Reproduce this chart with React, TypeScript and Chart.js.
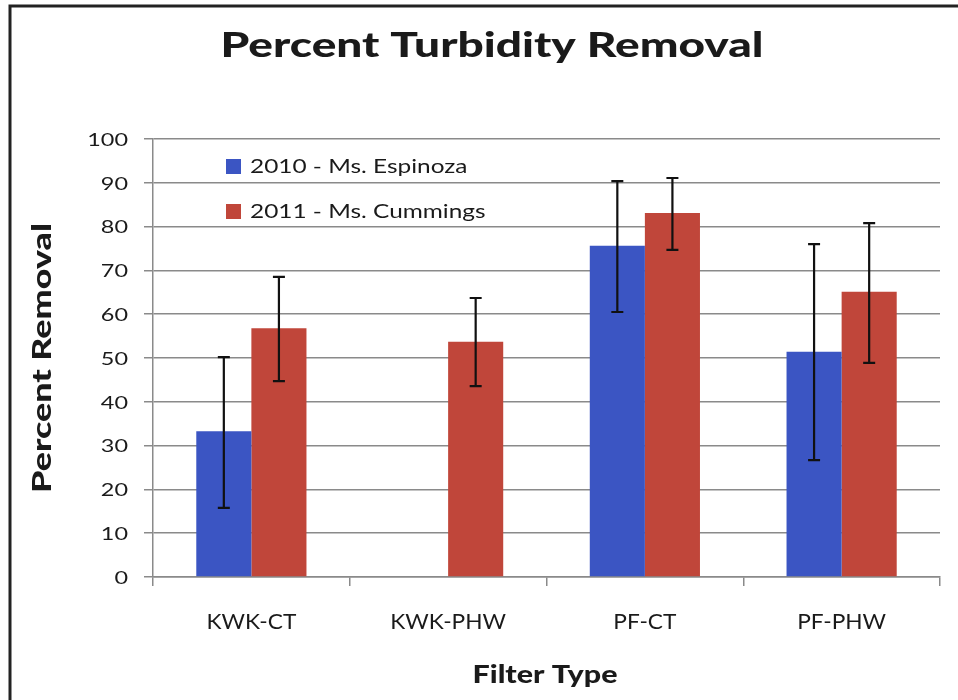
import React, { useEffect, useRef } from "react";
import { Chart, registerables } from "chart.js";

Chart.register(...registerables);

const chartTitle = "Percent Turbidity Removal";
const xAxisTitle = "Filter Type";
const yAxisTitle = "Percent Removal";
const categories = ["KWK-CT", "KWK-PHW", "PF-CT", "PF-PHW"];
const seriesLabels = ["2010 - Ms. Espinoza", "2011 - Ms. Cummings"];
const values2010: (number | null)[] = [33.3, null, 75.6, 51.4];
const values2011: (number | null)[] = [56.8, 53.7, 83.1, 65.1];
const err2010Low: (number | null)[] = [15.8, null, 60.5, 26.7];
const err2010High: (number | null)[] = [50.2, null, 90.4, 76.0];
const err2011Low: (number | null)[] = [44.7, 43.6, 74.7, 48.9];
const err2011High: (number | null)[] = [68.5, 63.7, 91.1, 80.8];
const yMin = 0;
const yMax = 100;
const yStep = 10;

const BLUE = "#3b55c3";
const RED = "#c0463a";
const TEXT = "#1a1a1a";
const FONT = "Lato, 'Open Sans', sans-serif";

const errorLows = [err2010Low, err2011Low];
const errorHighs = [err2010High, err2011High];

function drawText(
  ctx: CanvasRenderingContext2D,
  text: string,
  x: number,
  y: number,
  font: string,
  align: CanvasTextAlign,
  baseline: CanvasTextBaseline,
  sx: number,
  rotate = 0,
  fitWidth = 0
) {
  ctx.save();
  ctx.font = font;
  let s = sx;
  if (fitWidth > 0) {
    const w = ctx.measureText(text).width;
    if (w > 0) s = fitWidth / w;
  }
  ctx.translate(x, y);
  if (rotate) ctx.rotate(rotate);
  ctx.scale(s, 1);
  ctx.textAlign = align;
  ctx.textBaseline = baseline;
  ctx.fillStyle = TEXT;
  ctx.fillText(text, 0, 0);
  ctx.restore();
}

const errorBarPlugin = {
  id: "errorBars",
  afterDatasetsDraw(chart: any) {
    const ctx = chart.ctx;
    const yScale = chart.scales.y;
    ctx.save();
    ctx.strokeStyle = "#111";
    ctx.lineWidth = 2.2;
    chart.data.datasets.forEach((ds: any, di: number) => {
      const meta = chart.getDatasetMeta(di);
      meta.data.forEach((bar: any, i: number) => {
        const lo = errorLows[di][i];
        const hi = errorHighs[di][i];
        if (lo == null || hi == null) return;
        const x = bar.x;
        const yLo = yScale.getPixelForValue(lo);
        const yHi = yScale.getPixelForValue(hi);
        const cap = 6;
        ctx.beginPath();
        ctx.moveTo(x, yLo);
        ctx.lineTo(x, yHi);
        ctx.moveTo(x - cap, yLo);
        ctx.lineTo(x + cap, yLo);
        ctx.moveTo(x - cap, yHi);
        ctx.lineTo(x + cap, yHi);
        ctx.stroke();
      });
    });
    ctx.restore();
  },
};

const decorPlugin = {
  id: "decor",
  afterDraw(chart: any) {
    const ctx = chart.ctx as CanvasRenderingContext2D;
    const xs = chart.scales.x;
    const ys = chart.scales.y;
    ctx.save();
    // frame
    ctx.strokeStyle = "#222";
    ctx.lineWidth = 3;
    ctx.strokeRect(10, 6, 1000, 1000);
    ctx.restore();

    // title
    drawText(ctx, chartTitle, 492, 57, `900 35px ${FONT}`, "center", "alphabetic", 1, 0, 543);
    // x axis title
    drawText(ctx, xAxisTitle, 545, 683, `900 25px ${FONT}`, "center", "alphabetic", 1, 0, 145);
    // y axis title
    drawText(ctx, yAxisTitle, 51, 358, `900 27px ${FONT}`, "center", "alphabetic", 1, -Math.PI / 2, 270);

    // y tick labels
    ys.ticks.forEach((t: any, i: number) => {
      const y = ys.getPixelForTick(i);
      drawText(ctx, String(t.value), 128, y + 1, `18px ${FONT}`, "right", "middle", 1.3);
    });
    // x tick labels
    categories.forEach((c, i) => {
      const x = xs.getPixelForValue(i);
      drawText(ctx, c, x, 622, `21px ${FONT}`, "center", "middle", 1.08);
    });

    // legend
    chart.data.datasets.forEach((ds: any, i: number) => {
      const cy = 166 + i * 45;
      ctx.fillStyle = ds.backgroundColor;
      ctx.fillRect(226, cy - 7, 15, 15);
      drawText(ctx, ds.label, 250, cy + 1, `20px ${FONT}`, "left", "middle", 1.22);
    });
  },
};

export default function App() {
  const ref = useRef<HTMLCanvasElement | null>(null);
  useEffect(() => {
    if (!ref.current) return;
    const padLeft = 60;
    const padRight = 18;
    const padTop = 139;
    const chart = new Chart(ref.current, {
      type: "bar",
      data: {
        labels: categories,
        datasets: [
          { label: seriesLabels[0], data: values2010, backgroundColor: BLUE, borderWidth: 0 },
          { label: seriesLabels[1], data: values2011, backgroundColor: RED, borderWidth: 0 },
        ],
      },
      options: {
        responsive: false,
        animation: false,
        devicePixelRatio: 1,
        layout: { padding: { left: padLeft, right: padRight, top: padTop, bottom: 0 } },
        plugins: { legend: { display: false }, title: { display: false }, tooltip: { enabled: false } },
        datasets: { bar: { categoryPercentage: 0.56, barPercentage: 1.0 } },
        scales: {
          x: {
            grid: {
              offset: true,
              drawOnChartArea: false,
              drawTicks: true,
              tickLength: 9,
              color: "#8a8a8a",
              lineWidth: 1.5,
            },
            border: { color: "#8a8a8a", width: 1.5 },
            ticks: { display: false },
            afterFit(scale: any) {
              scale.height = 700 - 577;
            },
          },
          y: {
            min: yMin,
            max: yMax,
            grid: { color: "#8a8a8a", lineWidth: 1.5, tickLength: 9, drawTicks: true },
            border: { color: "#8a8a8a", width: 1.5 },
            ticks: { stepSize: yStep, display: false },
            afterFit(scale: any) {
              scale.width = 153 - padLeft;
            },
          },
        },
      },
      plugins: [errorBarPlugin, decorPlugin],
    });
    return () => chart.destroy();
  }, []);
  return (
    <div style={{ position: "fixed", left: 0, top: 0, width: 958, height: 700, background: "#fff" }}>
      <canvas ref={ref} width={958} height={700} style={{ display: "block" }} />
    </div>
  );
}
